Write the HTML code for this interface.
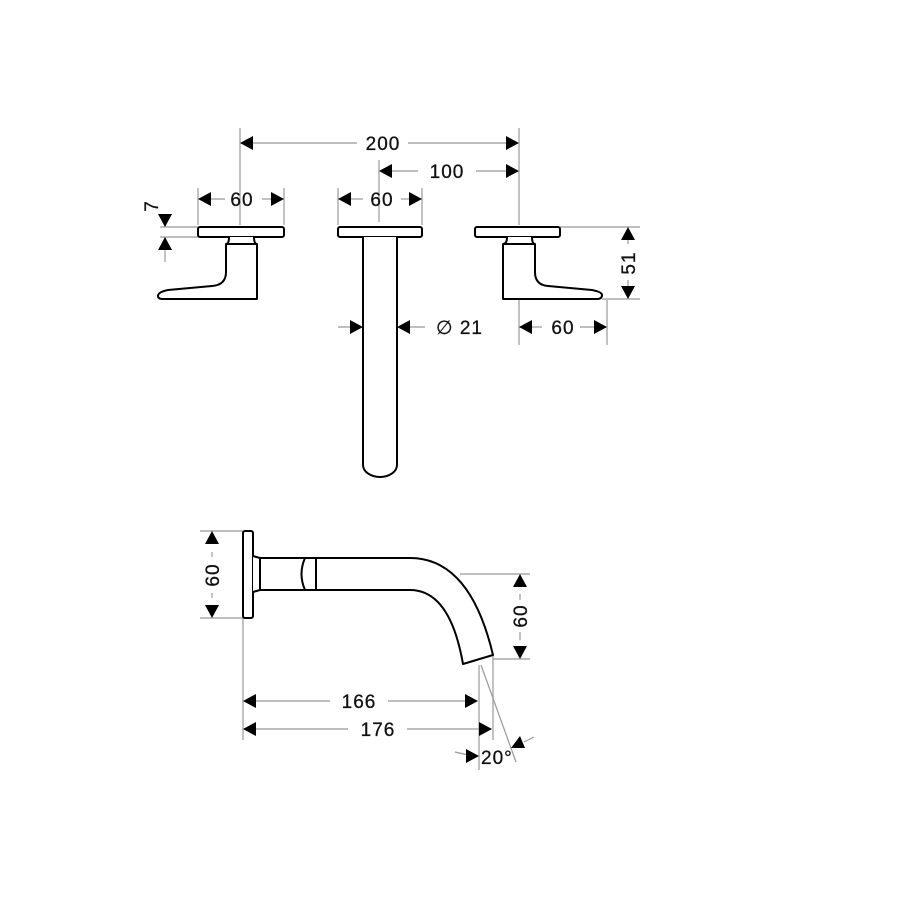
<!DOCTYPE html>
<html><head><style>
html,body{margin:0;padding:0;background:#fff;width:900px;height:900px;overflow:hidden}
text{font-family:"Liberation Sans",sans-serif;font-size:19px;fill:#111;letter-spacing:1px;stroke:#111;stroke-width:0.3}
</style></head><body>
<svg width="900" height="900" viewBox="0 0 900 900" xmlns="http://www.w3.org/2000/svg">
<g stroke="#999" stroke-width="1.2" fill="none">
<line x1="240" y1="128" x2="240" y2="225"/>
<line x1="519" y1="128" x2="519" y2="225"/>
<line x1="379" y1="160" x2="379" y2="222"/>
<line x1="198" y1="188" x2="198" y2="225"/>
<line x1="284" y1="188" x2="284" y2="225"/>
<line x1="338" y1="188" x2="338" y2="225"/>
<line x1="422" y1="188" x2="422" y2="225"/>
<line x1="160" y1="227" x2="198" y2="227"/>
<line x1="160" y1="237" x2="198" y2="237"/>
<line x1="560" y1="227" x2="640" y2="227"/>
<line x1="602" y1="299" x2="640" y2="299"/>
<line x1="519" y1="300" x2="519" y2="345"/>
<line x1="607" y1="300" x2="607" y2="345"/>
<line x1="250" y1="143" x2="357" y2="143"/>
<line x1="408" y1="143" x2="510" y2="143"/>
<line x1="388" y1="171" x2="418" y2="171"/>
<line x1="476" y1="171" x2="510" y2="171"/>
<line x1="207" y1="199" x2="225" y2="199"/>
<line x1="262" y1="199" x2="276" y2="199"/>
<line x1="347" y1="199" x2="363" y2="199"/>
<line x1="401" y1="199" x2="413" y2="199"/>
<line x1="165" y1="245" x2="165" y2="262"/>
<line x1="628" y1="237" x2="628" y2="244"/>
<line x1="628" y1="280" x2="628" y2="289"/>
<line x1="528" y1="327" x2="542" y2="327"/>
<line x1="580" y1="327" x2="598" y2="327"/>
<line x1="338" y1="327" x2="355" y2="327"/>
<line x1="405" y1="327" x2="425" y2="327"/>
<line x1="200" y1="531" x2="243" y2="531"/>
<line x1="200" y1="618" x2="243" y2="618"/>
<line x1="243" y1="618" x2="243" y2="740"/>
<line x1="460" y1="574" x2="530" y2="574"/>
<line x1="493" y1="659" x2="530" y2="659"/>
<line x1="479" y1="665" x2="479" y2="770"/>
<line x1="493" y1="656" x2="493" y2="740"/>
<line x1="481" y1="665" x2="516" y2="762"/>
<line x1="212" y1="552" x2="212" y2="557"/>
<line x1="212" y1="593" x2="212" y2="598"/>
<line x1="520" y1="594" x2="520" y2="600"/>
<line x1="520" y1="632" x2="520" y2="640"/>
<line x1="253" y1="701" x2="330" y2="701"/>
<line x1="388" y1="701" x2="468" y2="701"/>
<line x1="253" y1="729" x2="348" y2="729"/>
<line x1="407" y1="729" x2="482" y2="729"/>
<line x1="455" y1="752" x2="468" y2="755"/>
<line x1="524" y1="742" x2="534" y2="737"/>
</g>
<g stroke="none" fill="#000">
<path d="M240,143 l13,-7 v14z"/><path d="M519,143 l-13,-7 v14z"/>
<path d="M379,171 l13,-7 v14z"/><path d="M519,171 l-13,-7 v14z"/>
<path d="M198,199 l13,-7 v14z"/><path d="M284,199 l-13,-7 v14z"/>
<path d="M338,199 l13,-7 v14z"/><path d="M422,199 l-13,-7 v14z"/>
<path d="M165,227 l-7,-13 h14z"/><path d="M165,237 l-7,13 h14z"/>
<path d="M628,227 l-7,13 h14z"/><path d="M628,299 l-7,-13 h14z"/>
<path d="M519,327 l13,-7 v14z"/><path d="M607,327 l-13,-7 v14z"/>
<path d="M363,327 l-13,-7 v14z"/><path d="M397,327 l13,-7 v14z"/>
<path d="M212,531 l-7,13 h14z"/><path d="M212,618 l-7,-13 h14z"/>
<path d="M520,574 l-7,13 h14z"/><path d="M520,659 l-7,-13 h14z"/>
<path d="M243,701 l13,-7 v14z"/><path d="M478,701 l-13,-7 v14z"/>
<path d="M243,729 l13,-7 v14z"/><path d="M492,729 l-13,-7 v14z"/>
<path d="M479,756 l-13,-7 v14z"/><path d="M511,748 l9,-12 l5,12z"/>
</g>
<g stroke="#000" stroke-width="2" fill="#fff" stroke-linejoin="round">
<rect x="198" y="227" width="86" height="10" rx="2"/>
<rect x="338" y="227" width="84" height="10" rx="2"/>
<rect x="475" y="227" width="85" height="10" rx="2"/>
<path d="M363,237 L363,465 A17,12 0 0 0 397,465 L397,237"/>
<path d="M229,237 Q229,244 226,244 L226,272 Q226,285 212,286 L168,290 Q158,292 158,296 Q158,299 163,299 L257,299 L257,244 Q254,244 254,237"/>
<line x1="226" y1="244" x2="257" y2="244"/>
<path d="M507,237 Q507,244 503,244 L503,299 L597,299 Q602,299 602,295 Q602,292 592,290 L548,286 Q535,285 535,272 L535,244 Q532,244 532,237"/>
<line x1="503" y1="244" x2="535" y2="244"/>
<rect x="243" y="531" width="10" height="87" rx="2"/>
<path d="M253,556 L260,558 L410,558 Q470,558 493,655 L463,664 Q450,590 410,590 L260,590 L253,592"/>
<line x1="260" y1="558" x2="260" y2="590"/>
<path d="M305,558 Q298,574 305,590" fill="none"/>
<line x1="316" y1="558" x2="316" y2="590"/>
</g>
<text x="383" y="150" text-anchor="middle">200</text>
<text x="447" y="178" text-anchor="middle">100</text>
<text x="242" y="206" text-anchor="middle">60</text>
<text x="382" y="206" text-anchor="middle">60</text>
<text x="563" y="334" text-anchor="middle">60</text>
<text x="436" y="334">∅ 21</text>
<text transform="translate(158,206) rotate(-90)" text-anchor="middle">7</text>
<text transform="translate(635,263) rotate(-90)" text-anchor="middle">51</text>
<text transform="translate(219,575) rotate(-90)" text-anchor="middle">60</text>
<text transform="translate(527,616) rotate(-90)" text-anchor="middle">60</text>
<text x="359" y="708" text-anchor="middle">166</text>
<text x="378" y="736" text-anchor="middle">176</text>
<text x="481" y="764">20°</text>
</svg>
</body></html>
